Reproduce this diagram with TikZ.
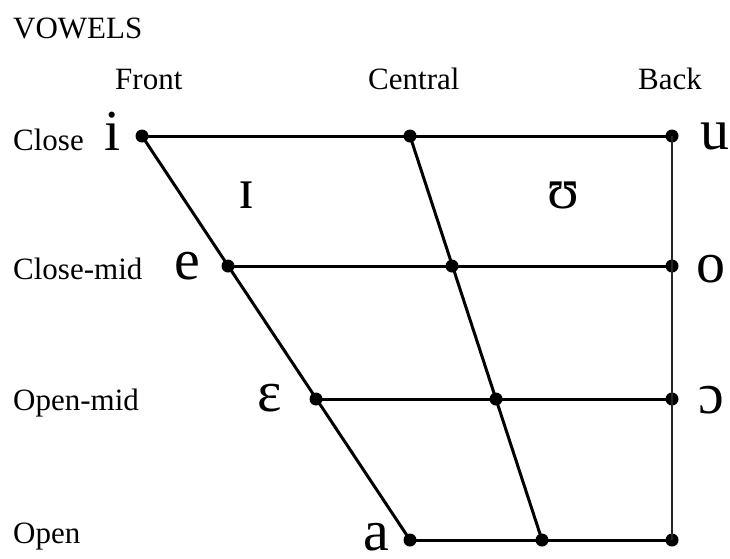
\documentclass[tikz,border=0pt]{standalone}
\usepackage{fontspec}
\setmainfont{Liberation Serif}
\begin{document}
\begin{tikzpicture}[x=1pt,y=-1pt,
  dot/.style={circle,fill=black,inner sep=0pt,minimum size=13pt},
  lbl/.style={font=\fontsize{31}{33}\selectfont,inner sep=0pt,anchor=base west,text depth=0pt},
  vow/.style={font=\fontsize{58}{60}\selectfont,inner sep=0pt,anchor=base,text depth=0pt},
  edge/.style={line width=3pt},
  backedge/.style={line width=2pt,black!85}]
\useasboundingbox (0,0) rectangle (730,558);
% vowel points
\node[dot] (i) at (142,136) {};
\node[dot] (c1) at (410,136) {};
\node[dot] (u) at (672,136) {};
\node[dot] (e) at (228,266) {};
\node[dot] (c2) at (452,266) {};
\node[dot] (o) at (672,266) {};
\node[dot] (E) at (316,399) {};
\node[dot] (c3) at (496,399) {};
\node[dot] (O) at (672,399) {};
\node[dot] (a) at (410,540) {};
\node[dot] (c4) at (542,540) {};
\node[dot] (b4) at (672,540) {};
% lines
\draw[edge] (i.center) -- (u.center);
\draw[edge] (e.center) -- (o.center);
\draw[edge] (E.center) -- (O.center);
\draw[edge] (a.center) -- (b4.center);
\draw[edge] (i.center) -- (a.center);
\draw[edge] (c1.center) -- (c4.center);
\draw[backedge] (u.center) -- (b4.center);
% labels
\node[lbl] (title) at (13,38) {VOWELS};
\node[lbl] (front) at (115,89) {Front};
\node[lbl] (central) at (368,89) {Central};
\node[lbl] (back) at (638,89) {Back};
\node[lbl] (close) at (13,150) {Close};
\node[lbl] (closemid) at (13,279) {Close-mid};
\node[lbl] (openmid) at (13,410) {Open-mid};
\node[lbl] (open) at (13,543) {Open};
% vowel symbols
\node[vow] (ti) at (113,150) {i};
\node[vow] (tu) at (715,149) {u};
\node[vow] (te) at (187,279) {e};
\node[vow] (to) at (711,282) {o};
\node[vow] (tE) at (270,411) {ɛ};
\node[vow] (tO) at (711,413) {ɔ};
\node[vow] (ta) at (376,550) {a};
\node[vow] (tI) at (247,208) {ɪ};
\node[vow] (tU) at (563,208) {ʊ};
\end{tikzpicture}
\end{document}
